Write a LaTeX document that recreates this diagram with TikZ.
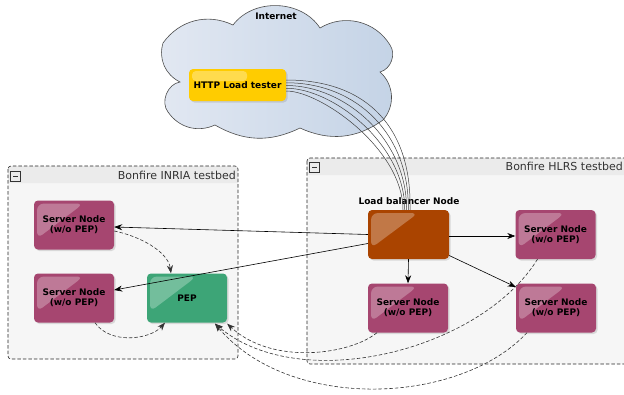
\documentclass[tikz,border=0pt]{standalone}
\usepackage{fontspec}
\setmainfont{DejaVu Sans}
\usetikzlibrary{calc,arrows.meta,shadows}
\definecolor{srvcol}{HTML}{A64670}
\definecolor{pepcol}{HTML}{3DA577}
\definecolor{lbcol}{HTML}{AA4400}
\definecolor{httpcol}{HTML}{FFCC00}
\definecolor{bodygray}{HTML}{F6F6F6}
\definecolor{headgray}{HTML}{EBEBEB}
\definecolor{cloudA}{HTML}{E2E8F2}
\definecolor{cloudB}{HTML}{C4D3E6}
\begin{document}
\begin{tikzpicture}[x=1pt,y=-1pt,
  hl/.style={path picture={\fill[white,fill opacity=0.28,rounded corners=7pt]
     ($(path picture bounding box.north west)+(3pt,-3pt)$) --
     ($(path picture bounding box.north west)!0.62!(path picture bounding box.north east)+(0pt,-3pt)$) --
     ($(path picture bounding box.north west)!0.78!(path picture bounding box.south west)+(3pt,0pt)$) -- cycle;}},
  hlbar/.style={path picture={\fill[white,fill opacity=0.3,rounded corners=4pt]
     ($(path picture bounding box.north west)+(3pt,-2pt)$) rectangle
     ($(path picture bounding box.north west)!0.6!(path picture bounding box.north east)+(0pt,-12pt)$);}},
  box/.style={rounded corners=4pt, minimum width=80pt, minimum height=49pt, inner sep=1pt,
     font=\bfseries\fontsize{9}{10}\selectfont, align=center, text=black,
     drop shadow={opacity=0.25,shadow xshift=1.5pt,shadow yshift=-1.5pt}},
  srv/.style={box, fill=srvcol, hl},
  lbl/.style={font=\bfseries\fontsize{9}{10}\selectfont, inner sep=0pt},
  ttl/.style={font=\fontsize{11}{12}\selectfont, inner sep=0pt, text=black!80},
  minus/.style={draw=black!80, fill=headgray, minimum size=10pt, inner sep=0pt,
     path picture={\draw[line width=1pt] ($(path picture bounding box.west)+(2.5pt,0pt)$) -- ($(path picture bounding box.east)+(-2.5pt,0pt)$);}},
  tb/.style={draw=black!85, dash pattern=on 3.5pt off 2pt, line width=0.6pt, rounded corners=3pt},
  con/.style={draw=black, line width=0.6pt, -{Stealth[length=8pt,width=6pt]}},
  dcon/.style={draw=black!80, line width=0.6pt, dash pattern=on 3.5pt off 2pt, -{Stealth[length=8pt,width=6pt]}},
  load/.style={draw=black!75, line width=0.5pt},
  cloud/.style={draw=black!70, line width=0.6pt, left color=cloudA, right color=cloudB}
]
\useasboundingbox (0,0) rectangle (624,394);
% cloud
\path[cloud] (180,82) to[bend left=40] (163,43) to[bend left=40] (233,25) to[bend left=55] (320,28)
  to[bend left=45] (390,45) to[bend left=55] (380,72) to[bend left=45] (383,120)
  to[bend left=30] (300,128) to[bend left=28] (215,125) to[bend left=40] (168,112) to[bend left=60] cycle;
\node[lbl] (inet) at (276,16) {Internet};

% testbeds
\fill[bodygray, rounded corners=3pt] (8,166) rectangle (238,359);
\fill[headgray, rounded corners=3pt] (8,166) rectangle (238,183);
\fill[headgray] (8,176) rectangle (238,183);
\draw[tb] (8,166) rectangle (238,359);
\node[minus] (minA) at (15.5,176) {};
\node[ttl, anchor=east] (tA) at (236,175.5) {Bonfire INRIA testbed};

\fill[bodygray, rounded corners=3pt] (307,158) rectangle (630,364);
\fill[headgray, rounded corners=3pt] (307,158) rectangle (630,175);
\fill[headgray] (307,168) rectangle (630,175);
\draw[tb] (307,158) rectangle (630,364);
\node[minus] (minB) at (314.5,167) {};
\node[ttl, anchor=east] (tB) at (623,166.5) {Bonfire HLRS testbed};

% nodes
\node[box, fill=httpcol, minimum width=97pt, minimum height=32pt, hlbar] (http) at (237.5,85) {HTTP Load tester};
\node[srv] (srvA) at (74,225) {Server Node\\(w/o PEP)};
\node[srv] (srvB) at (74,298) {Server Node\\(w/o PEP)};
\node[box, fill=pepcol, hl] (pep) at (187,298) {PEP};
\node[box, fill=lbcol, minimum width=81pt, hl] (lb) at (408.5,234.5) {};
\node[lbl, anchor=south] (lbt) at (409,205) {Load balancer Node};
\node[srv] (srvC) at (555.5,234.5) {Server Node\\(w/o PEP)};
\node[srv] (srvD) at (408,308) {Server Node\\(w/o PEP)};
\node[srv] (srvE) at (556,308) {Server Node\\(w/o PEP)};

% load curves
\foreach \i in {0,...,4} {
  \draw[load] ($(http.east)+(0,{-5+2.75*\i})$) .. controls +({83-12*\i},0) and +({2-0.5*\i},{-80+5*\i}) .. ($(lb.north)+({1.5-1.75*\i},0)$);
}

% solid connectors
\draw[con] (lb.west) -- ($(srvA.east)+(0,2)$);
\draw[con] ($(lb.west)+(0,9)$) -- ($(srvB.east)+(0,-8)$);
\draw[con] ($(lb.east)+(0,1.5)$) -- ($(srvC.west)+(0,1.5)$);
\draw[con] (lb.south) -- (srvD.north);
\draw[con] ($(lb.east)+(0,21)$) -- ($(srvE.west)+(0,-21)$);

% dashed connectors
\draw[dcon] ($(srvA.east)+(0,6)$) .. controls +(25,5) and +(-3,-22) .. ($(pep.north)+(-16,0)$);
\draw[dcon] ($(srvB.south)+(21,0)$) .. controls +(15,22) and +(-15,17) .. ($(pep.south)+(-22,0)$);
\draw[dcon] ($(srvD.south)+(-31,0)$) .. controls +(-27,22) and +(45,42) .. ($(pep.south east)+(0,1)$);
\draw[dcon] ($(srvC.south)+(-18,0)$) .. controls +(-57,92) and +(85,72) .. ($(pep.south)+(28,1)$);
\draw[dcon] ($(srvE.south)+(-29,0)$) .. controls +(-67,72) and +(75,89) .. ($(pep.south)+(28,1)$);
\end{tikzpicture}
\end{document}
